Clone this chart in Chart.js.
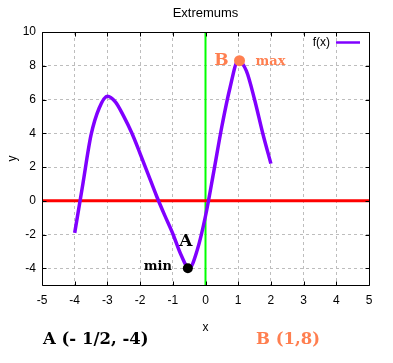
<!DOCTYPE html>
<html>
<head>
<meta charset="utf-8">
<title>Extremums</title>
<script src="https://cdn.jsdelivr.net/npm/chart.js@4.4.1/dist/chart.umd.min.js"></script>
<style>
    html, body { margin: 0; padding: 0; background: #fff; }
    #wrap { width: 393px; height: 363px; }
</style>
</head>
<body>
<div id="wrap"><canvas id="extremumChart" width="393" height="363"></canvas></div>
<script>
// ==================== DATA ====================

const xValues = [-4, -3.75, -3.5, -3.25, -3, -2.75, -2.5, -2.25, -2, -1.75, -1.5, -1.25, -1,
                 -0.75, -0.5, -0.25, 0, 0.25, 0.5, 0.75, 1, 1.25, 1.5, 1.75, 2];
const fValues = [-1.9, 1.0, 3.9, 5.5, 6.2, 5.85, 5.0, 4.0, 2.8, 1.55, 0.3, -0.85, -1.95,
                 -3.2, -4.0, -2.9, -0.9, 1.7, 4.4, 6.7, 8.3, 7.7, 6.0, 4.0, 2.2];

const xTicks = [-5, -4, -3, -2, -1, 0, 1, 2, 3, 4, 5];
const yTicks = [-4, -2, 0, 2, 4, 6, 8, 10];
const xRange = [-5, 5];
const yRange = [-5, 10];

const minPoint = [-0.54, -4];
const maxPoint = [1.04, 8.3];

const titleText = 'Extremums';
const minCaption = 'A (- 1/2, -4)';
const maxCaption = 'B (1,8)';

// ==================== STYLE ====================

const CURVE_COLOR = '#8000ff';
const CORAL = '#ff7f50';
const GRID_COLOR = '#bdbdbd';
const SANS = '"Liberation Sans", Arial, sans-serif';
const SERIF = '"DejaVu Serif", serif';

Chart.defaults.font.family = SANS;
Chart.defaults.font.size = 12;
Chart.defaults.color = '#000';

// frame, title, legend and point labels
const decorPlugin = {
    id: 'decor',
    afterDraw(chart) {
        const { ctx, chartArea: a, scales: { x, y } } = chart;
        const L = Math.round(a.left) + 0.5, R = Math.round(a.right) + 0.5;
        const T = Math.round(a.top) + 0.5, B = Math.round(a.bottom) + 0.5;
        ctx.save();

        // frame + inward ticks
        ctx.strokeStyle = '#000';
        ctx.lineWidth = 1;
        ctx.setLineDash([]);
        ctx.beginPath();
        ctx.rect(L, T, R - L, B - T);
        xTicks.forEach(v => {
            const px = Math.round(x.getPixelForValue(v)) + 0.5;
            ctx.moveTo(px, B); ctx.lineTo(px, B - 4);
            ctx.moveTo(px, T); ctx.lineTo(px, T + 4);
        });
        yTicks.forEach(v => {
            const py = Math.round(y.getPixelForValue(v)) + 0.5;
            ctx.moveTo(L, py); ctx.lineTo(L + 4, py);
            ctx.moveTo(R, py); ctx.lineTo(R - 4, py);
        });
        ctx.stroke();

        // title
        ctx.fillStyle = '#000';
        ctx.font = '13px ' + SANS;
        ctx.textAlign = 'center';
        ctx.textBaseline = 'middle';
        ctx.fillText(titleText, (a.left + a.right) / 2, 13);

        // legend
        const curve = chart.data.datasets[2];
        ctx.font = '12px ' + SANS;
        ctx.textAlign = 'right';
        ctx.fillText(curve.label, a.right - 39, a.top + 11);
        ctx.strokeStyle = curve.borderColor;
        ctx.lineWidth = 2.5;
        ctx.beginPath();
        ctx.moveTo(a.right - 33, a.top + 10.5);
        ctx.lineTo(a.right - 9, a.top + 10.5);
        ctx.stroke();

        // point labels
        const mx = x.getPixelForValue(minPoint[0]), my = y.getPixelForValue(minPoint[1]);
        const Mx = x.getPixelForValue(maxPoint[0]), My = y.getPixelForValue(maxPoint[1]);
        ctx.textBaseline = 'alphabetic';
        ctx.fillStyle = '#000';
        ctx.font = 'bold 17px ' + SERIF;
        ctx.textAlign = 'center';
        ctx.fillText('A', mx - 2, my - 22);
        ctx.font = 'bold 13px ' + SERIF;
        ctx.textAlign = 'right';
        ctx.fillText('min', mx - 16, my + 2);

        ctx.fillStyle = CORAL;
        ctx.font = 'bold 17px ' + SERIF;
        ctx.textAlign = 'center';
        ctx.fillText('B', Mx - 18, My + 4);
        ctx.font = 'bold 13px ' + SERIF;
        ctx.textAlign = 'left';
        ctx.fillText('max', Mx + 16, My + 4);

        // captions under the chart
        ctx.font = 'bold 16.5px ' + SERIF;
        ctx.fillStyle = '#000';
        ctx.fillText(minCaption, a.left + 1, 344);
        ctx.fillStyle = CORAL;
        ctx.fillText(maxCaption, 256, 344);

        ctx.restore();
    }
};

// ==================== CHART ====================

function setupExtremumChart() {
    const ctx = document.getElementById('extremumChart');
    if (!ctx) return;

    const curveData = xValues.map((v, i) => ({ x: v, y: fValues[i] }));

    const data = {
        datasets: [
            {
                label: 'min',
                data: [{ x: minPoint[0], y: minPoint[1] }],
                pointRadius: 5,
                pointBackgroundColor: '#000',
                pointBorderWidth: 0,
            },
            {
                label: 'max',
                data: [{ x: maxPoint[0], y: maxPoint[1] }],
                pointRadius: 5.5,
                pointBackgroundColor: CORAL,
                pointBorderWidth: 0,
            },
            {
                label: 'f(x)',
                data: curveData,
                showLine: true,
                borderColor: CURVE_COLOR,
                borderWidth: 3.5,
                pointRadius: 0,
                cubicInterpolationMode: 'monotone',
            },
            {
                label: 'x axis',
                data: [{ x: xRange[0], y: 0 }, { x: xRange[1], y: 0 }],
                showLine: true,
                borderColor: '#ff0000',
                borderWidth: 3,
                pointRadius: 0,
            },
            {
                label: 'y axis',
                data: [{ x: 0, y: yRange[0] }, { x: 0, y: yRange[1] }],
                showLine: true,
                borderColor: '#00ff00',
                borderWidth: 2,
                pointRadius: 0,
            }
        ]
    };

    new Chart(ctx, {
        type: 'scatter',
        data: data,
        plugins: [decorPlugin],
        options: {
            responsive: false,
            animation: false,
            layout: {
                padding: { top: 32, right: 24, bottom: 28, left: 0 }
            },
            plugins: {
                legend: { display: false },
                tooltip: { enabled: false },
                title: { display: false }
            },
            scales: {
                x: {
                    type: 'linear',
                    min: xRange[0],
                    max: xRange[1],
                    afterBuildTicks: s => { s.ticks = xTicks.map(v => ({ value: v })); },
                    grid: { color: GRID_COLOR, drawTicks: false },
                    border: { display: false, dash: [3, 3] },
                    ticks: { padding: 8, maxRotation: 0, autoSkip: false },
                    title: { display: true, text: 'x', padding: { top: 5, bottom: 0 } }
                },
                y: {
                    type: 'linear',
                    min: yRange[0],
                    max: yRange[1],
                    afterBuildTicks: s => { s.ticks = yTicks.map(v => ({ value: v })); },
                    afterFit: s => { s.width = 42; },
                    grid: { color: GRID_COLOR, drawTicks: false },
                    border: { display: false, dash: [3, 3] },
                    ticks: { padding: 6, autoSkip: false },
                    title: { display: true, text: 'y', padding: { top: 5, bottom: 0 } }
                }
            }
        }
    });
}

setupExtremumChart();
</script>
</body>
</html>
